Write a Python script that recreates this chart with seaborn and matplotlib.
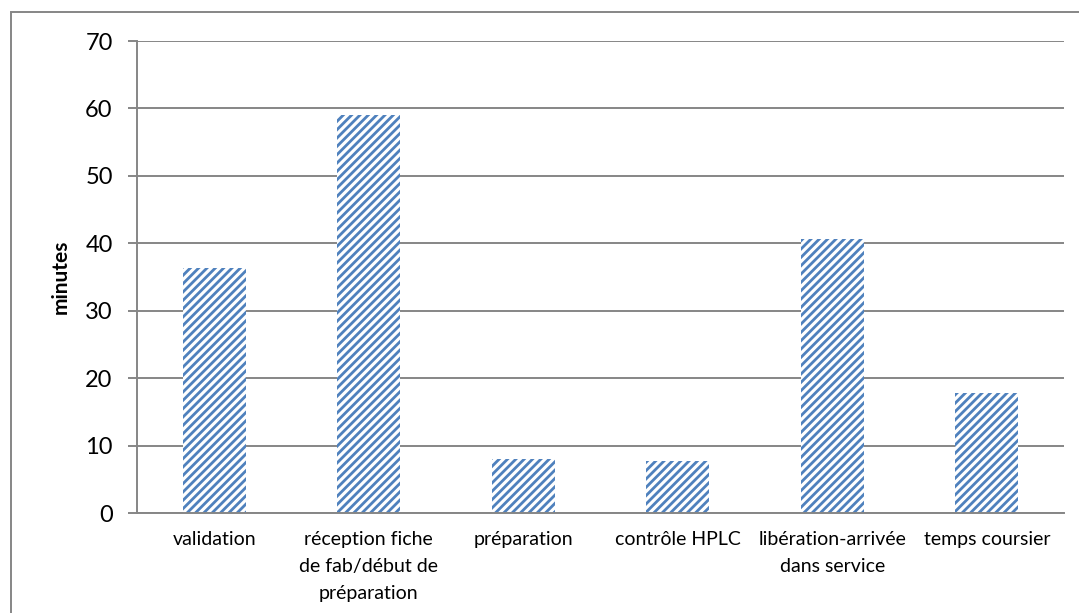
import matplotlib
matplotlib.use("Agg")
import matplotlib.pyplot as plt
import seaborn as sns
import pandas as pd
from matplotlib.patches import Rectangle

categories = ["validation",
              "réception fiche\nde fab/début de\npréparation",
              "préparation",
              "contrôle HPLC",
              "libération-arrivée\ndans service",
              "temps coursier"]
minutes = [36.3, 59.0, 8.0, 7.7, 40.6, 17.8]
yticks = [0, 10, 20, 30, 40, 50, 60, 70]

sns.set_theme(style="white")
plt.rcParams["font.family"] = ["Lato", "DejaVu Sans"]
plt.rcParams["hatch.linewidth"] = 2.0

df = pd.DataFrame({"cat": categories, "val": minutes})

fig = plt.figure(figsize=(10.79, 6.13), dpi=100)
ax = fig.add_axes([137/1079, 1-513/613, (1064-137)/1079, (513-41)/613])

sns.barplot(data=df, x="cat", y="val", ax=ax, color="white", width=0.41,
            edgecolor="#4F81BD", linewidth=0, hatch="////")
for p in ax.patches:
    p.set_hatch("////")
    p.set_edgecolor("#4F81BD")
    p.set_linewidth(0)

grid_c = "#868686"
ax.set_ylim(0, 70)
ax.set_xlim(-0.5, len(categories) - 0.5)
ax.set_yticks(yticks)
ax.yaxis.grid(True, color=grid_c, linewidth=1.4)
ax.set_axisbelow(True)
for s in ["top", "right"]:
    ax.spines[s].set_visible(False)
for s in ["left", "bottom"]:
    ax.spines[s].set_color(grid_c)
    ax.spines[s].set_linewidth(1.4)

ax.set_xticks(range(len(categories)))
ax.set_xticklabels(categories, fontsize=14, color="black", linespacing=1.72)
ax.set_xticks([i - 0.5 for i in range(len(categories) + 1)], minor=True)
ax.tick_params(axis="x", which="major", length=0, pad=13)
ax.tick_params(axis="x", which="minor", length=5, width=1.4, color=grid_c, direction="out")
ax.tick_params(axis="y", length=6.5, width=1.4, color=grid_c, direction="out",
               labelsize=17, labelcolor="black", pad=11, left=True)
ax.set_xlabel("")
ax.set_ylabel("minutes", fontsize=15, fontweight="bold", color="black", labelpad=10)

fig.patches.append(Rectangle((11/1079, -0.1), 1.2, 1 - 12/613 + 0.1,
                             transform=fig.transFigure, fill=False,
                             edgecolor=grid_c, linewidth=1.4, clip_on=False))

fig.savefig("out.png", dpi=100)
